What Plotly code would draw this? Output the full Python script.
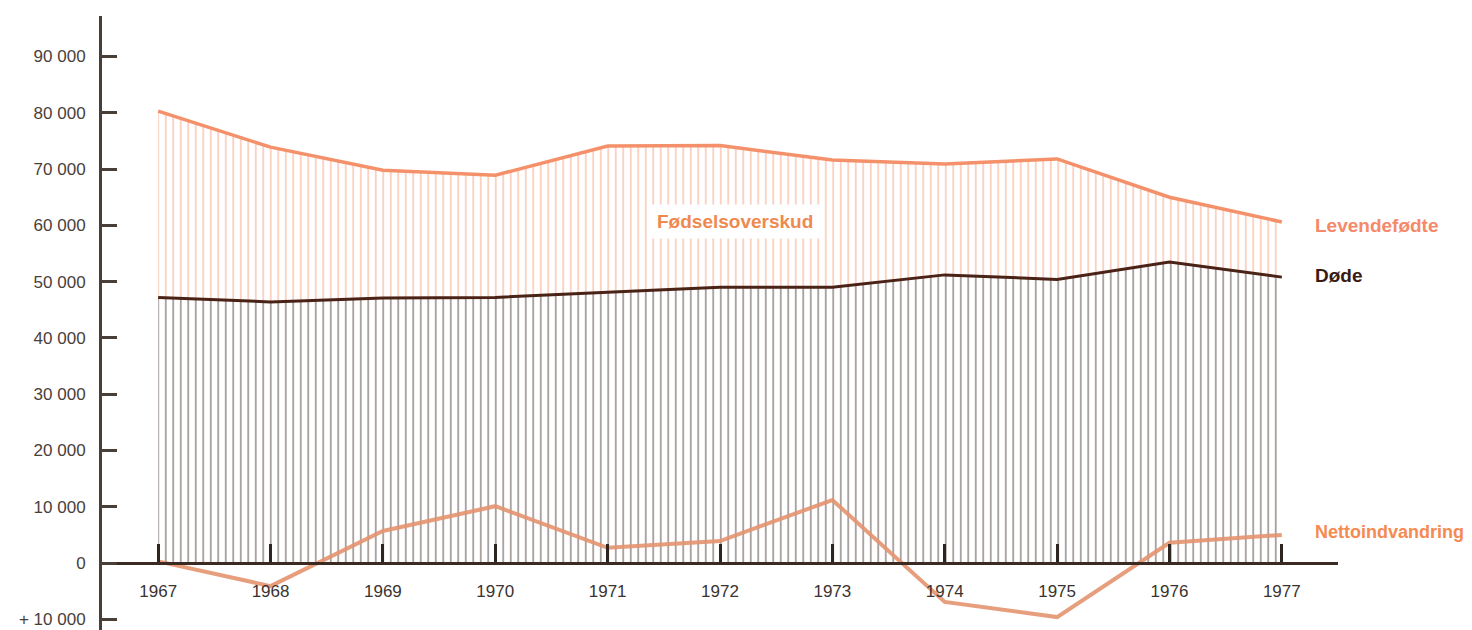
import plotly.graph_objects as go

# Data
aar = [1967, 1968, 1969, 1970, 1971, 1972, 1973, 1974, 1975, 1976, 1977]
levendefodte = [80300, 73900, 69800, 68900, 74100, 74200, 71600, 70900, 71800, 65000, 60600]
dode = [47200, 46400, 47100, 47200, 48100, 49000, 49000, 51200, 50400, 53500, 50800]
nettoindvandring = [300, -4100, 5700, 10100, 2700, 3900, 11200, -6900, -9600, 3600, 5000]

y_ticks = [-10000, 0, 10000, 20000, 30000, 40000, 50000, 60000, 70000, 80000, 90000]
y_ticktext = ["+ 10 000", "0", "10 000", "20 000", "30 000", "40 000",
              "50 000", "60 000", "70 000", "80 000", "90 000"]

# Farver
FARVE_FODT = "#F4916A"
FARVE_FODT_SKRAV = "#F7A384"
FARVE_DOD = "#4A2216"
FARVE_DOD_SKRAV = "#54463F"
FARVE_NETTO = "#E5946F"
FARVE_AKSE = "#4A3F38"

Y_MIN, Y_MAX = -11900, 97200

fig = go.Figure()

# Døde - skraveret fra 0
fig.add_trace(go.Scatter(
    x=aar, y=dode, mode="lines",
    line=dict(color=FARVE_DOD, width=3),
    fill="tozeroy",
    fillcolor="rgba(0,0,0,0)",
    fillpattern=dict(shape="|", fgcolor=FARVE_DOD_SKRAV, bgcolor="rgba(0,0,0,0)",
                     size=7.5, solidity=0.25),
    hoverinfo="skip", showlegend=False,
))

# Levendefødte - skraveret ned til døde (fødselsoverskud)
fig.add_trace(go.Scatter(
    x=aar, y=levendefodte, mode="lines",
    line=dict(color=FARVE_FODT, width=3.5),
    fill="tonexty",
    fillcolor="rgba(0,0,0,0)",
    fillpattern=dict(shape="|", fgcolor=FARVE_FODT_SKRAV, bgcolor="rgba(0,0,0,0)",
                     size=7.5, solidity=0.25),
    hoverinfo="skip", showlegend=False,
))

# Nettoindvandring
fig.add_trace(go.Scatter(
    x=aar, y=nettoindvandring, mode="lines",
    line=dict(color=FARVE_NETTO, width=4),
    opacity=0.9,
    hoverinfo="skip", showlegend=False,
))

font_navn = "Liberation Sans, Arial, sans-serif"

# siden har 8px body-margin, derfor lidt mindre figur og marginer
fig.update_layout(
    width=1456, height=622,
    plot_bgcolor="white",
    paper_bgcolor="white",
    margin=dict(l=94, r=126, t=8, b=0),
    font=dict(family=font_navn, color=FARVE_AKSE, size=16),
    xaxis=dict(
        range=[1966.5, 1977.5],
        tickmode="array", tickvals=aar, ticktext=[str(a) for a in aar],
        anchor="free",
        position=(0 - Y_MIN) / (Y_MAX - Y_MIN),
        showline=True, linecolor="#3A2A22", linewidth=3,
        ticks="inside", ticklen=18, tickwidth=3, tickcolor="#2E2420",
        ticklabelstandoff=12,
        showgrid=False, zeroline=False,
        tickfont=dict(size=17, color="#3A3330"),
        layer="above traces",
    ),
    yaxis=dict(
        range=[Y_MIN, Y_MAX],
        tickmode="array", tickvals=y_ticks, ticktext=y_ticktext,
        showline=True, linecolor=FARVE_AKSE, linewidth=3,
        ticks="inside", ticklen=15, tickwidth=3, tickcolor=FARVE_AKSE,
        ticklabelstandoff=10,
        showgrid=False, zeroline=False,
        tickfont=dict(size=17, color="#4A4039"),
    ),
)

# Tekster
annot = [
    dict(text="Levendefødte", y=levendefodte[-1] - 700, color="#F5896A", size=19),
    dict(text="Døde", y=dode[-1] + 300, color="#3A1A14", size=19),
    dict(text="Nettoindvandring", y=nettoindvandring[-1] + 600, color="#F58A52", size=18),
]
for a in annot:
    fig.add_annotation(
        x=1977.28, y=a["y"], xref="x", yref="y",
        text="<b>" + a["text"] + "</b>", showarrow=False,
        xanchor="left", yanchor="middle",
        font=dict(size=a["size"], color=a["color"], family=font_navn),
    )

fig.add_annotation(
    x=1972.13, y=60700, xref="x", yref="y",
    text="<b>Fødselsoverskud</b>", showarrow=False,
    bgcolor="white", borderpad=6,
    font=dict(size=19, color="#EE8A50", family=font_navn),
)

fig.write_html("out.html")
